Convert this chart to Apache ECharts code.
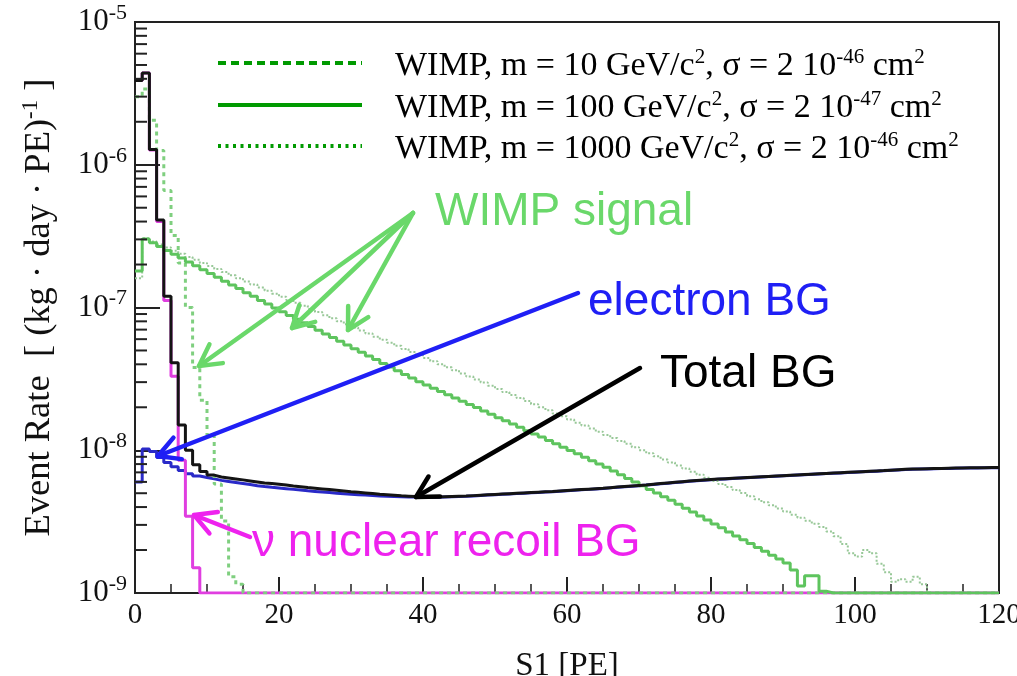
<!DOCTYPE html>
<html>
<head>
<meta charset="utf-8">
<script src="https://cdn.jsdelivr.net/npm/echarts@6/dist/echarts.min.js"></script>
<style>
  html, body { margin: 0; padding: 0; background: #ffffff; }
  #chart { width: 1017px; height: 676px; }
</style>
</head>
<body>
<div id="chart"></div>
<script>
// Event-rate histograms in S1, 1-PE bins from 0 to 120 PE.
// Values are in units of 1e-9 events / (kg · day · PE); 0 means an empty bin.
const UNIT = 1e-9;
const FLOOR = 1e-9;          // empty bins sit on the lower frame edge of the log plot
const X_MIN = 0, X_MAX = 120;
const xTicks = [0, 20, 40, 60, 80, 100, 120];
const yDecades = [-9, -8, -7, -6, -5];

const totalBG = [
  3900, 4400, 1280, 410, 120, 41, 15, 10, 7.9, 7.1,
  6.7, 6.5, 6.4, 6.3, 6.2, 6.1, 6.0, 5.9, 5.85, 5.78,
  5.7, 5.62, 5.55, 5.48, 5.42, 5.36, 5.3, 5.24, 5.18, 5.12,
  5.07, 5.02, 4.97, 4.92, 4.88, 4.84, 4.8, 4.77, 4.74, 4.72,
  4.71, 4.70, 4.72, 4.74, 4.76, 4.78, 4.81, 4.84, 4.87, 4.90,
  4.93, 4.96, 4.99, 5.02, 5.05, 5.08, 5.11, 5.14, 5.18, 5.22,
  5.26, 5.30, 5.34, 5.38, 5.42, 5.47, 5.52, 5.57, 5.62, 5.67,
  5.72, 5.78, 5.84, 5.90, 5.96, 6.02, 6.08, 6.13, 6.18, 6.23,
  6.28, 6.32, 6.36, 6.40, 6.44, 6.48, 6.52, 6.56, 6.60, 6.64,
  6.68, 6.72, 6.76, 6.80, 6.84, 6.88, 6.92, 6.96, 7.00, 7.04,
  7.08, 7.12, 7.16, 7.20, 7.25, 7.30, 7.35, 7.38, 7.40, 7.42,
  7.44, 7.46, 7.48, 7.50, 7.52, 7.53, 7.54, 7.55, 7.56, 7.56
];

const electronBG = [
  6.0, 10.2, 9.8, 8.9, 8.2, 7.65, 7.2, 6.85, 6.6, 6.45,
  6.3, 6.15, 6.05, 5.95, 5.85, 5.75, 5.65, 5.57, 5.5, 5.44,
  5.38, 5.32, 5.26, 5.2, 5.15, 5.1, 5.05, 5.0, 4.96, 4.92,
  4.88, 4.85, 4.82, 4.79, 4.76, 4.74, 4.72, 4.71, 4.70, 4.69,
  4.68, 4.68, 4.70, 4.72, 4.74, 4.76, 4.79, 4.82, 4.85, 4.88,
  4.91, 4.94, 4.97, 5.00, 5.03, 5.06, 5.09, 5.12, 5.16, 5.20,
  5.24, 5.28, 5.32, 5.36, 5.40, 5.45, 5.50, 5.55, 5.60, 5.65,
  5.70, 5.76, 5.82, 5.88, 5.94, 6.00, 6.06, 6.11, 6.16, 6.21,
  6.26, 6.30, 6.34, 6.38, 6.42, 6.46, 6.50, 6.54, 6.58, 6.62,
  6.66, 6.70, 6.74, 6.78, 6.82, 6.86, 6.90, 6.94, 6.98, 7.02,
  7.06, 7.10, 7.14, 7.18, 7.23, 7.28, 7.33, 7.36, 7.38, 7.40,
  7.42, 7.44, 7.46, 7.48, 7.50, 7.51, 7.52, 7.53, 7.54, 7.54
];

const nuRecoilBG = [
  3900, 4400, 1270, 400, 112, 33, 8.5, 3.45, 1.5, 0,
  0, 0, 0, 0, 0, 0, 0, 0, 0, 0,
  0, 0, 0, 0, 0, 0, 0, 0, 0, 0,
  0, 0, 0, 0, 0, 0, 0, 0, 0, 0,
  0, 0, 0, 0, 0, 0, 0, 0, 0, 0,
  0, 0, 0, 0, 0, 0, 0, 0, 0, 0,
  0, 0, 0, 0, 0, 0, 0, 0, 0, 0,
  0, 0, 0, 0, 0, 0, 0, 0, 0, 0,
  0, 0, 0, 0, 0, 0, 0, 0, 0, 0,
  0, 0, 0, 0, 0, 0, 0, 0, 0, 0,
  0, 0, 0, 0, 0, 0, 0, 0, 0, 0,
  0, 0, 0, 0, 0, 0, 0, 0, 0, 0
];

// WIMP, m = 10 GeV/c^2, sigma = 2e-46 cm^2
const wimp10 = [
  3000, 3400, 2050, 1260, 660, 320, 205, 100, 38, 22.4,
  12.8, 5.8, 3.2, 1.3, 1.15, 0, 0, 0, 0, 0,
  0, 0, 0, 0, 0, 0, 0, 0, 0, 0,
  0, 0, 0, 0, 0, 0, 0, 0, 0, 0,
  0, 0, 0, 0, 0, 0, 0, 0, 0, 0,
  0, 0, 0, 0, 0, 0, 0, 0, 0, 0,
  0, 0, 0, 0, 0, 0, 0, 0, 0, 0,
  0, 0, 0, 0, 0, 0, 0, 0, 0, 0,
  0, 0, 0, 0, 0, 0, 0, 0, 0, 0,
  0, 0, 0, 0, 0, 0, 0, 0, 0, 0,
  0, 0, 0, 0, 0, 0, 0, 0, 0, 0,
  0, 0, 0, 0, 0, 0, 0, 0, 0, 0
];

// WIMP, m = 100 GeV/c^2, sigma = 2e-47 cm^2
const wimp100 = [
  180, 302, 284, 267, 251, 236, 222, 208, 196, 184,
  173, 163, 153, 144, 136, 127, 120, 112, 106, 99.3,
  93.3, 87.9, 82.8, 78.2, 73.6, 69.3, 65.3, 61.7, 58.1, 54.7,
  51.5, 48.5, 45.8, 43.2, 40.6, 38.3, 36.1, 34.0, 32.1, 30.2,
  28.6, 27.2, 25.8, 24.5, 23.2, 22.0, 20.9, 19.9, 18.8, 17.9,
  16.9, 16.1, 15.3, 14.5, 13.7, 13.0, 12.4, 11.7, 11.1, 10.5,
  9.97, 9.44, 8.93, 8.45, 8.01, 7.59, 7.15, 6.74, 6.35, 6.00,
  5.65, 5.32, 5.02, 4.73, 4.47, 4.19, 3.93, 3.69, 3.46, 3.24,
  3.04, 2.86, 2.68, 2.51, 2.36, 2.22, 2.08, 1.96, 1.84, 1.73,
  1.62, 1.45, 1.12, 1.32, 1.32, 1.03, 0, 0, 0, 0,
  0, 0, 0, 0, 0, 0, 0, 0, 0, 0,
  0, 0, 0, 0, 0, 0, 0, 0, 0, 0
];

// WIMP, m = 1000 GeV/c^2, sigma = 2e-46 cm^2
const wimp1000 = [
  160, 305, 290, 276, 263, 250, 238, 226, 216, 205,
  195, 186, 177, 168, 160, 152, 145, 138, 131, 125,
  119, 113, 108, 103, 97.6, 92.9, 88.4, 84.1, 80.1, 76.2,
  72.5, 69.0, 65.7, 62.5, 59.5, 56.6, 53.9, 51.3, 48.8, 46.5,
  44.2, 42.1, 40.0, 38.1, 36.3, 34.5, 32.8, 31.3, 29.8, 28.3,
  26.9, 25.6, 24.4, 23.2, 22.1, 21.0, 20.0, 19.1, 18.1, 17.3,
  16.4, 15.6, 14.9, 14.2, 13.5, 12.8, 12.2, 11.6, 11.1, 10.5,
  10.0, 9.53, 9.07, 8.63, 8.21, 7.82, 7.44, 7.08, 6.74, 6.41,
  6.10, 5.81, 5.53, 5.26, 5.01, 4.76, 4.53, 4.32, 4.11, 3.91,
  3.72, 3.54, 3.37, 3.21, 3.05, 2.90, 2.70, 2.50, 2.20, 1.90,
  1.80, 2.00, 1.90, 1.60, 1.40, 1.20, 1.25, 1.20, 1.30, 1.15,
  0, 0, 0, 0, 0, 0, 0, 0, 0, 0
];

const SERIF = '"Liberation Serif", "Times New Roman", serif';
const SANS = '"Liberation Sans", Arial, sans-serif';

// Turn bin contents into step-line points: left edge of each bin plus the closing edge.
function histPoints(bins) {
  const pts = bins.map((v, i) => [X_MIN + i, v > 0 ? v * UNIT : FLOOR]);
  pts.push([X_MIN + bins.length, pts[pts.length - 1][1]]);
  return pts;
}

function histSeries(name, bins, color, width, type, z) {
  return {
    name: name, type: 'line', step: 'end', data: histPoints(bins),
    showSymbol: false, symbol: 'none', z: z, clip: true,
    lineStyle: { color: color, width: width, type: type, cap: 'butt' },
    emphasis: { disabled: true }, silent: true
  };
}

// Log-axis minor ticks at 2..9 of each decade, drawn inward from the left axis.
const minorTickValues = [];
for (let d = yDecades[0]; d < yDecades[yDecades.length - 1]; d++) {
  for (let m = 2; m <= 9; m++) minorTickValues.push([X_MIN, m * Math.pow(10, d)]);
}

function arrow(from, to, color) {
  const ang = Math.atan2(to[1] - from[1], to[0] - from[0]);
  const L = 24, a = 0.5;
  const w1 = [to[0] - L * Math.cos(ang - a), to[1] - L * Math.sin(ang - a)];
  const w2 = [to[0] - L * Math.cos(ang + a), to[1] - L * Math.sin(ang + a)];
  return [
    { type: 'line', z: 100, shape: { x1: from[0], y1: from[1], x2: to[0], y2: to[1] },
      style: { stroke: color, lineWidth: 4.5, lineCap: 'round' } },
    { type: 'polyline', z: 100, shape: { points: [w1, to, w2] },
      style: { stroke: color, lineWidth: 4.5, fill: 'none', lineJoin: 'round', lineCap: 'round' } }
  ];
}

const legendRich = {
  n: { fontFamily: SERIF, fontSize: 34, lineHeight: 38, color: '#000', verticalAlign: 'middle' },
  s: { fontFamily: SERIF, fontSize: 21, lineHeight: 21, color: '#000', verticalAlign: 'top' }
};
const legendItems = [
  { y: 63, dash: [8, 5], width: 4, text: '{n|WIMP, m = 10 GeV/c}{s|2}{n|, σ = 2 10}{s|-46}{n| cm}{s|2}' },
  { y: 105, dash: 'solid', width: 4, text: '{n|WIMP, m = 100 GeV/c}{s|2}{n|, σ = 2 10}{s|-47}{n| cm}{s|2}' },
  { y: 146, dash: [3, 4.5], width: 4, text: '{n|WIMP, m = 1000 GeV/c}{s|2}{n|, σ = 2 10}{s|-46}{n| cm}{s|2}' }
];

const graphics = [];
legendItems.forEach(it => {
  graphics.push({ type: 'line', z: 100, shape: { x1: 218, y1: it.y, x2: 362, y2: it.y },
    style: { stroke: '#009a00', lineWidth: it.width, lineDash: it.dash === 'solid' ? null : it.dash } });
  graphics.push({ type: 'text', z: 100, x: 395, y: it.y + 3,
    style: { text: it.text, rich: legendRich, align: 'left', verticalAlign: 'middle' } });
});

const annoFont = 46;
function anno(text, x, y, color) {
  return { type: 'text', z: 100, x: x, y: y,
    style: { text: text, fontFamily: SANS, fontSize: annoFont, fill: color, align: 'left', verticalAlign: 'middle' } };
}
const GREEN_ANNO = '#6ad86a', BLUE_ANNO = '#1f1ff5', MAG_ANNO = '#ee22ee';
graphics.push(anno('WIMP signal', 435, 212, GREEN_ANNO));
graphics.push(anno('electron BG', 588, 302, BLUE_ANNO));
graphics.push(anno('Total BG', 660, 374, '#000000'));
graphics.push(anno('ν nuclear recoil BG', 252, 543, MAG_ANNO));
graphics.push(...arrow([413, 213], [199, 366], GREEN_ANNO));
graphics.push(...arrow([413, 213], [292, 328], GREEN_ANNO));
graphics.push(...arrow([413, 213], [348, 330], GREEN_ANNO));
graphics.push(...arrow([578, 293], [158, 456], BLUE_ANNO));
graphics.push(...arrow([640, 368], [416, 497], '#000000'));
graphics.push(...arrow([250, 537], [194, 515], MAG_ANNO));

const chart = echarts.init(document.getElementById('chart'), null, { renderer: 'canvas' });
chart.setOption({
  animation: false,
  backgroundColor: '#ffffff',
  grid: {
    left: 135, right: 18, top: 22, bottom: 83,
    show: true, borderColor: '#222', borderWidth: 2, backgroundColor: 'transparent',
    containLabel: false, outerBoundsMode: 'none'
  },
  xAxis: {
    type: 'value', min: X_MIN, max: X_MAX, interval: 20,
    name: 'S1 [PE]', nameLocation: 'middle', nameGap: 57,
    nameTextStyle: { fontFamily: SERIF, fontSize: 33, color: '#111' },
    axisLine: { show: true, lineStyle: { color: '#222', width: 2 } },
    axisTick: { show: true, inside: true, length: 16, lineStyle: { color: '#222', width: 2 } },
    minorTick: { show: true, splitNumber: 4, length: 9, lineStyle: { color: '#222', width: 1.5 } },
    splitLine: { show: false },
    axisLabel: {
      fontFamily: SERIF, fontSize: 29, color: '#111', margin: 8,
      formatter: v => (xTicks.indexOf(v) >= 0 ? String(v) : '')
    }
  },
  yAxis: {
    type: 'log', logBase: 10,
    min: Math.pow(10, yDecades[0]), max: Math.pow(10, yDecades[yDecades.length - 1]),
    splitNumber: yDecades.length - 1,
    name: '{n|Event Rate  [ (kg · day · PE)}{s|-1}{n| ]}',
    nameLocation: 'middle', nameRotate: 90, nameGap: 76,
    nameTextStyle: {
      rich: {
        n: { fontFamily: SERIF, fontSize: 36.5, lineHeight: 40, color: '#111', verticalAlign: 'middle' },
        s: { fontFamily: SERIF, fontSize: 23, lineHeight: 22, color: '#111', verticalAlign: 'top' }
      }
    },
    axisLine: { show: true, lineStyle: { color: '#222', width: 2 } },
    axisTick: { show: true, inside: true, length: 25, lineStyle: { color: '#222', width: 2 } },
    minorTick: { show: false },
    splitLine: { show: false },
    axisLabel: {
      margin: 8,
      formatter: v => '{b|10}{s|' + Math.round(Math.log10(v)) + '}',
      rich: {
        b: { fontFamily: SERIF, fontSize: 31, lineHeight: 40, color: '#111', verticalAlign: 'middle' },
        s: { fontFamily: SERIF, fontSize: 22, lineHeight: 16, color: '#111', verticalAlign: 'top' }
      }
    }
  },
  series: [
    histSeries('electron BG', electronBG, '#2a2ac8', 3, 'solid', 3),
    histSeries('ν nuclear recoil BG', nuRecoilBG, '#e03ee0', 3, 'solid', 4),
    histSeries('WIMP 10 GeV', wimp10, '#7fcf7f', 3, [4, 4], 5),
    histSeries('WIMP 1000 GeV', wimp1000, '#98c898', 2, [2, 2], 6),
    histSeries('WIMP 100 GeV', wimp100, '#5ec45e', 3, 'solid', 7),
    histSeries('Total BG', totalBG, '#141414', 3, 'solid', 8),
    {
      type: 'custom', name: 'minor ticks', z: 9, silent: true, clip: false,
      data: minorTickValues,
      renderItem: (params, api) => {
        const p = api.coord([api.value(0), api.value(1)]);
        return { type: 'line', shape: { x1: p[0], y1: p[1], x2: p[0] + 12, y2: p[1] },
          style: { stroke: '#222', lineWidth: 2 } };
      }
    }
  ],
  graphic: graphics
});
</script>
</body>
</html>
